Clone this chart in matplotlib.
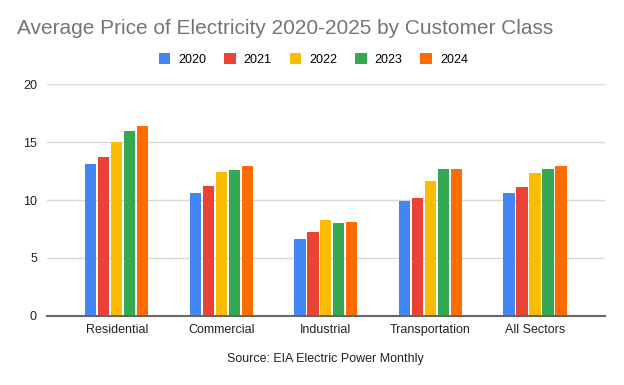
import matplotlib
matplotlib.use("Agg")
import matplotlib.pyplot as plt
import numpy as np
from matplotlib.patches import Patch

categories = ["Residential", "Commercial", "Industrial", "Transportation", "All Sectors"]
years = ["2020", "2021", "2022", "2023", "2024"]
v2020 = [13.1, 10.6, 6.6, 9.9, 10.6]
v2021 = [13.7, 11.2, 7.2, 10.2, 11.1]
v2022 = [15.0, 12.4, 8.3, 11.6, 12.3]
v2023 = [16.0, 12.6, 8.0, 12.7, 12.7]
v2024 = [16.4, 12.9, 8.1, 12.7, 12.9]
series = [v2020, v2021, v2022, v2023, v2024]
colors = ["#4285F4", "#EA4335", "#FBBC04", "#34A853", "#FF6D01"]

plt.rcParams['font.family'] = ['Liberation Sans', 'DejaVu Sans']
fig = plt.figure(figsize=(6.24, 3.85), dpi=100)
ax = fig.add_axes([0.0748, 0.18, 0.8948, 0.601])

x = np.arange(len(categories))
step = 0.124
bw = 0.108
for i, (vals, c) in enumerate(zip(series, colors)):
    ax.bar(x + (i - 2) * step, vals, width=bw, color=c, zorder=3, label=years[i])

ax.set_xlim(-0.67, 4.67)
ax.set_ylim(0, 20)
ax.set_yticks([0, 5, 10, 15, 20])
ax.grid(axis='y', color='#d9d9d9', linewidth=1, zorder=0)
for s in ['top', 'right', 'left']:
    ax.spines[s].set_visible(False)
ax.spines['bottom'].set_color('#666666')
ax.spines['bottom'].set_linewidth(1.5)
ax.spines['bottom'].set_zorder(4)
ax.set_xticks(x)
ax.set_xticklabels(categories)
ax.tick_params(axis='both', length=0, labelsize=9, colors='#222222')
ax.tick_params(axis='x', pad=6)
ax.tick_params(axis='y', pad=7)

fig.text(0.027, 0.925, "Average Price of Electricity 2020-2025 by Customer Class",
         fontsize=15, color='#757575', ha='left', va='center')

handles = [Patch(facecolor=c, edgecolor='none', label=y) for c, y in zip(colors, years)]
fig.legend(handles=handles, loc='center', bbox_to_anchor=(0.502, 0.846), ncol=5,
           frameon=False, fontsize=9, handlelength=0.95, handleheight=1.0,
           handletextpad=0.6, columnspacing=1.45)

fig.text(0.522, 0.068, "Source: EIA Electric Power Monthly", fontsize=9,
         color='#222222', ha='center', va='center')

fig.savefig("out.png", dpi=100)
